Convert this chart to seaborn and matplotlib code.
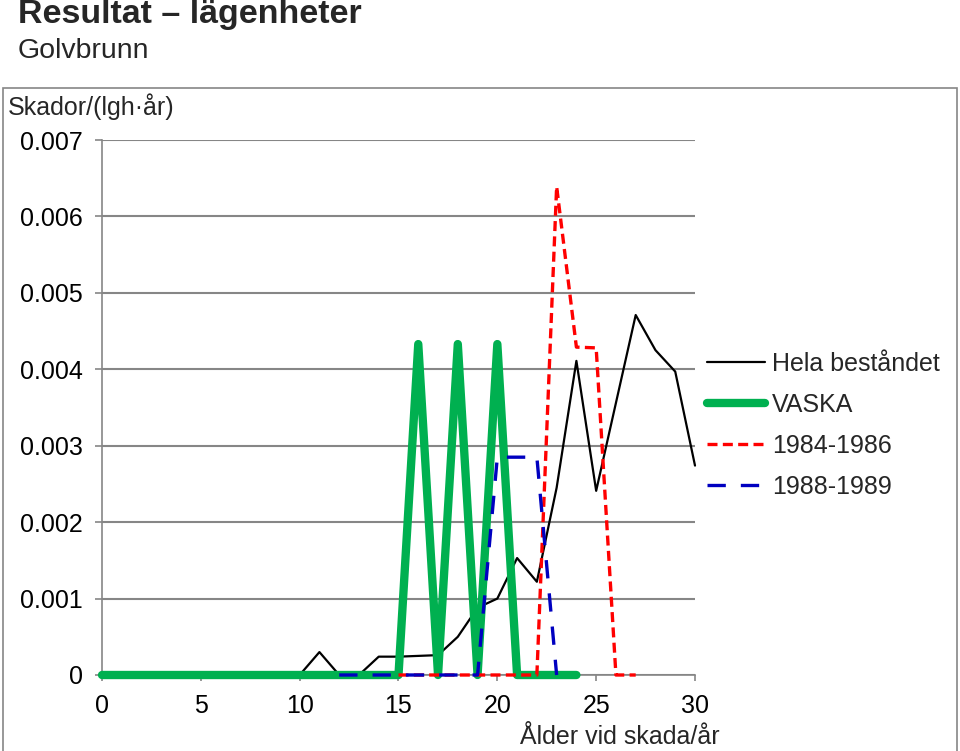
import numpy as np
import pandas as pd
import matplotlib
matplotlib.use("Agg")
import matplotlib.pyplot as plt
import matplotlib.patches as mpatches
import seaborn as sns

# ── DATA ────────────────────────────────────────────────────────────────────
age_hela = list(range(0, 31))
hela = [0, 0, 0, 0, 0, 0, 0, 0, 0, 0, 0,
        0.00030, 0, 0, 0.00024, 0.00024, 0.00025, 0.00026, 0.00050, 0.00088,
        0.00100, 0.00153, 0.00122, 0.00245, 0.00411, 0.00241, 0.00356, 0.00471,
        0.00425, 0.00397, 0.00274]

age_vaska = list(range(0, 25))
vaska = [0] * 16 + [0.00433, 0, 0.00433, 0, 0.00433, 0, 0, 0, 0]

age_8486 = list(range(15, 28))
y_8486 = [0, 0, 0, 0, 0, 0, 0, 0, 0.00639, 0.00429, 0.00428, 0, 0]

age_8889 = list(range(12, 24))
y_8889 = [0, 0, 0, 0, 0, 0, 0, 0, 0.00285, 0.00285, 0.00285, 0]

y_ticks = [0, 0.001, 0.002, 0.003, 0.004, 0.005, 0.006, 0.007]
y_ticklabels = ["0", "0.001", "0.002", "0.003", "0.004", "0.005", "0.006", "0.007"]
x_ticks = [0, 5, 10, 15, 20, 25, 30]

# ── STYLE ───────────────────────────────────────────────────────────────────
sns.set_style("white")
plt.rcParams["font.family"] = ["Liberation Sans", "DejaVu Sans"]
GRID = "#868686"
GREEN = "#00B050"; RED = "#FF0000"; BLUE = "#0000C0"

W, H = 960, 751
fig = plt.figure(figsize=(W / 100, H / 100), dpi=100)
ax = fig.add_axes([102 / W, 1 - 675 / H, (695 - 102) / W, (675 - 140) / H])

sns.lineplot(x=age_hela, y=hela, ax=ax, color="black", lw=1.6,
             label="Hela beståndet", clip_on=False, zorder=3)
sns.lineplot(x=age_vaska, y=vaska, ax=ax, color=GREEN, lw=6,
             solid_capstyle="round", solid_joinstyle="round",
             label="VASKA", clip_on=False, zorder=4)
sns.lineplot(x=age_8486, y=y_8486, ax=ax, color=RED, lw=2.4,
             dashes=False, label="1984-1986", clip_on=False, zorder=5)
sns.lineplot(x=age_8889, y=y_8889, ax=ax, color=BLUE, lw=2.4,
             dashes=False, label="1988-1989", clip_on=False, zorder=6)
ax.lines[2].set_dashes([3, 1.6])
ax.lines[3].set_dashes([5.5, 4.5])

ax.set_xlim(0, 30)
ax.set_ylim(0, 0.007)
ax.set_xticks(x_ticks)
ax.set_yticks(y_ticks)
ax.set_yticklabels(y_ticklabels)
ax.tick_params(axis="both", labelsize=18, colors=GRID, labelcolor="black")
ax.tick_params(axis="y", direction="out", length=5, width=1.2, pad=9, left=True)
ax.tick_params(axis="x", direction="out", length=4, width=1.2, pad=10, bottom=True)
ax.yaxis.grid(True, color=GRID, lw=1.5)
ax.set_axisbelow(True)
for s in ["top", "right"]:
    ax.spines[s].set_visible(False)
for s in ["left", "bottom"]:
    ax.spines[s].set_color(GRID)
    ax.spines[s].set_linewidth(1.2)
ax.set_xlabel(""); ax.set_ylabel("")

ax.legend(loc="upper left", bbox_to_anchor=(707 / W, 1 - 352 / H),
          bbox_transform=fig.transFigure, frameon=False, fontsize=18,
          handlelength=2.3, handletextpad=0.3, labelspacing=0.68,
          borderpad=0, borderaxespad=0)

# ── TEXTS ───────────────────────────────────────────────────────────────────
fig.text(18 / W, 1 - 15 / H, "Resultat – lägenheter", fontsize=24.5,
         fontweight="bold", va="center", ha="left")
fig.text(18 / W, 1 - 51 / H, "Golvbrunn", fontsize=20.5, va="center", ha="left")
fig.text(8 / W, 1 - 107 / H, "Skador/(lgh·år)", fontsize=18, va="center", ha="left")
fig.text(720 / W, 1 - 737 / H, "Ålder vid skada/år", fontsize=18,
         va="center", ha="right")

# chart border
fig.patches.append(mpatches.Rectangle((3 / W, -0.1), (957 - 3) / W, 0.1 + 1 - 88 / H,
                                      transform=fig.transFigure, fill=False,
                                      edgecolor=GRID, lw=1.2, clip_on=False))

fig.savefig("out.png", dpi=100)
